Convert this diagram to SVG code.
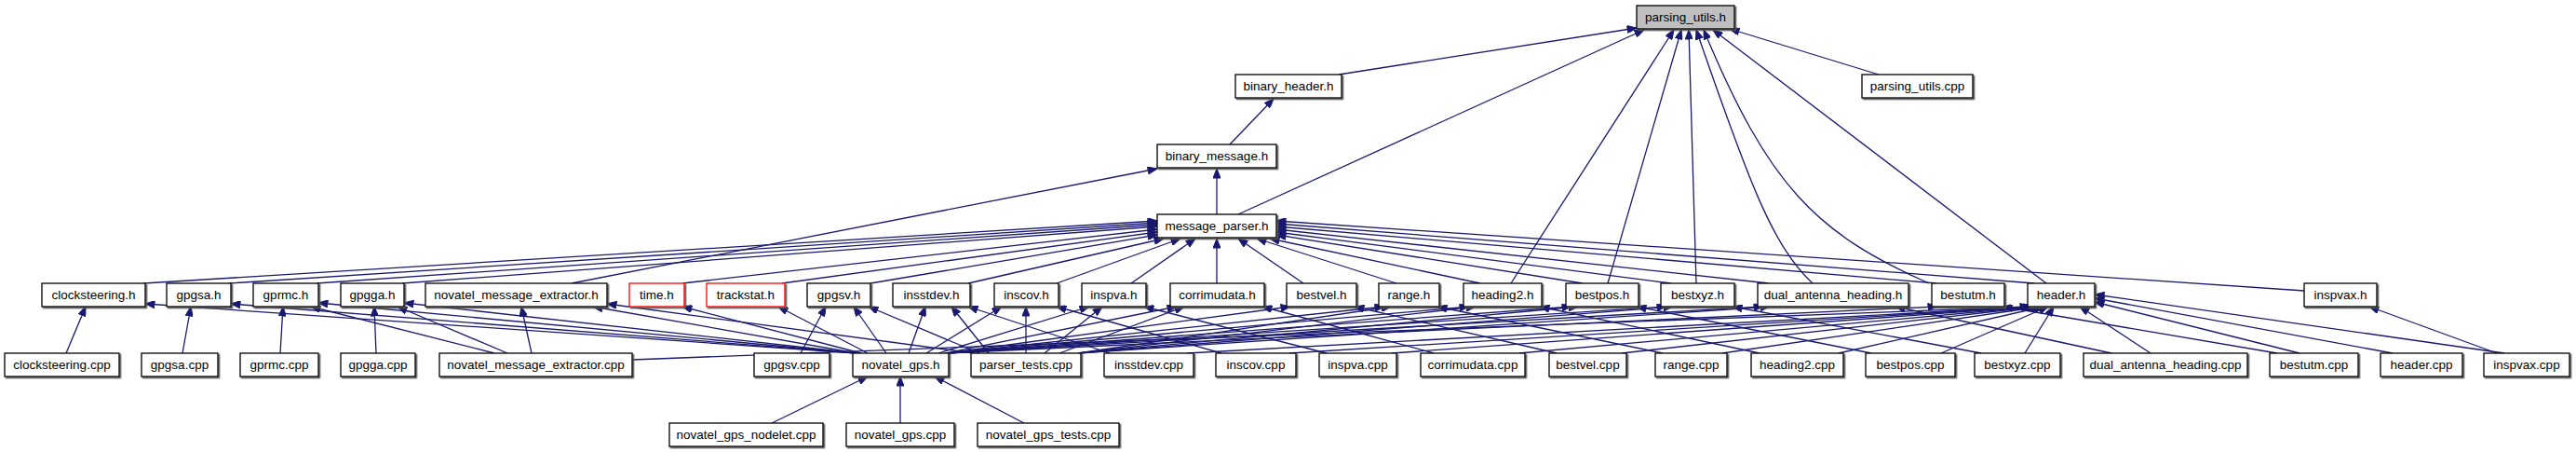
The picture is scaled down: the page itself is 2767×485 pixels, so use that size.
<svg xmlns="http://www.w3.org/2000/svg" width="2767" height="485" viewBox="0 0 2767 485">
<defs>
<style>
.n rect{fill:#fff;stroke:#000;stroke-width:1.3;filter:url(#sh)}
.n text{font-family:"Liberation Sans",Arial,sans-serif;font-size:13.5px;text-anchor:middle;fill:#000}
.red rect{stroke:#ff0000}
.root rect{fill:#bfbfbf}
.e path{stroke:#191970;stroke-width:1.3;fill:none;marker-end:url(#a)}
</style>
<filter id="sh" x="-10%" y="-30%" width="130%" height="180%">
<feDropShadow dx="1.5" dy="1.5" stdDeviation="0" flood-color="#555" flood-opacity="1"/>
</filter>
<marker id="a" viewBox="0 0 10 8" refX="10" refY="4" markerWidth="11" markerHeight="8" markerUnits="userSpaceOnUse" orient="auto">
<path d="M0,0 L10,4 L0,8 z" fill="#191970" stroke="#191970"/>
</marker>
</defs>
<rect width="2767" height="485" fill="#fff"/>
<g id="edges" class="e">
<path d="M1438,80 L1758,30"/>
<path d="M1330,230 L1766,32"/>
<path d="M1623,304 L1798,32"/>
<path d="M1727,304 L1806,32"/>
<path d="M1822,304 L1814,32"/>
<path d="M1947,304 C1905,265 1880,200 1822,32"/>
<path d="M2072,304 C1950,250 1900,200 1830,32"/>
<path d="M2198,304 L1840,32"/>
<path d="M2018,80 L1858,31"/>
<path d="M1321,155 L1368,106"/>
<path d="M1307,230 L1307,181"/>
<path d="M614,304 L1243,181"/>
<path d="M154,304 L1243,237"/>
<path d="M246,304 L1243,239"/>
<path d="M340,304 L1243,241"/>
<path d="M432,304 L1243,243"/>
<path d="M733,304 L1243,246"/>
<path d="M840,304 L1243,249"/>
<path d="M935,304 L1243,252"/>
<path d="M1040,304 L1250,256"/>
<path d="M1135,304 L1268,256"/>
<path d="M1215,304 L1284,256"/>
<path d="M1307,304 L1307,256"/>
<path d="M1400,304 L1330,256"/>
<path d="M1500,304 L1350,256"/>
<path d="M1590,304 L1364,256"/>
<path d="M1700,304 L1371,252"/>
<path d="M1795,304 L1371,249"/>
<path d="M1900,304 L1371,246"/>
<path d="M2080,304 L1371,243"/>
<path d="M2185,304 L1371,240"/>
<path d="M2475,312 L1371,237"/>
<path d="M71,379 L92,329"/>
<path d="M196,379 L205,329"/>
<path d="M301,379 L304,329"/>
<path d="M404,379 L402,329"/>
<path d="M571,379 L560,329"/>
<path d="M531,379 L334,329"/>
<path d="M545,379 L427,329"/>
<path d="M679,386 L2180,329"/>
<path d="M860,379 L887,329"/>
<path d="M920,379 L156,326"/>
<path d="M920,379 L248,326"/>
<path d="M920,379 L342,325"/>
<path d="M920,379 L434,325"/>
<path d="M920,379 L637,329"/>
<path d="M925,379 L733,329"/>
<path d="M932,379 L836,329"/>
<path d="M952,379 L917,329"/>
<path d="M976,379 L994,329"/>
<path d="M995,379 L1076,329"/>
<path d="M1008,379 L1170,329"/>
<path d="M1015,379 L1264,329"/>
<path d="M1017,379 L1386,329"/>
<path d="M1017,379 L1487,329"/>
<path d="M1017,379 L1578,329"/>
<path d="M1017,379 L1688,329"/>
<path d="M1017,379 L1790,329"/>
<path d="M1017,379 L1894,329"/>
<path d="M1017,379 L2081,329"/>
<path d="M1046,379 L652,326"/>
<path d="M1052,379 L933,329"/>
<path d="M1062,379 L1022,329"/>
<path d="M1102,379 L1102,329"/>
<path d="M1122,379 L1184,329"/>
<path d="M1138,379 L1272,329"/>
<path d="M1158,379 L1494,329"/>
<path d="M1158,379 L1585,329"/>
<path d="M1158,379 L1695,329"/>
<path d="M1158,379 L1797,329"/>
<path d="M1158,379 L1901,329"/>
<path d="M1192,379 L1040,329"/>
<path d="M1312,379 L1135,329"/>
<path d="M1425,379 L1229,329"/>
<path d="M1540,379 L1356,329"/>
<path d="M1672,379 L1455,329"/>
<path d="M1786,379 L1544,329"/>
<path d="M1890,379 L1654,329"/>
<path d="M2010,379 L1758,329"/>
<path d="M2128,379 L1861,329"/>
<path d="M2268,379 L2036,329"/>
<path d="M2446,379 L2151,329"/>
<path d="M2682,379 L2545,329"/>
<path d="M1275,379 L2182,329"/>
<path d="M1385,379 L2184,329"/>
<path d="M1495,379 L2186,329"/>
<path d="M1632,379 L2188,329"/>
<path d="M1742,379 L2190,329"/>
<path d="M1850,379 L2192,329"/>
<path d="M1975,379 L2195,329"/>
<path d="M2085,379 L2200,329"/>
<path d="M2175,379 L2206,329"/>
<path d="M2310,379 L2234,329"/>
<path d="M2470,379 L2250,324"/>
<path d="M2570,379 L2250,320"/>
<path d="M2690,379 L2250,316"/>
<path d="M829,454 L932,404"/>
<path d="M967,454 L967,404"/>
<path d="M1100,454 L1004,404"/>
</g>
<g id="n_parsing_utils_h" class="n root"><rect x="1758" y="6" width="105" height="25"/><text x="1810.5" y="23">parsing_utils.h</text></g>
<g id="n_binary_header_h" class="n"><rect x="1327" y="80" width="114" height="25"/><text x="1384" y="97">binary_header.h</text></g>
<g id="n_parsing_utils_cpp" class="n"><rect x="2000" y="80" width="119" height="25"/><text x="2059.5" y="97">parsing_utils.cpp</text></g>
<g id="n_binary_message_h" class="n"><rect x="1243" y="155" width="128" height="25"/><text x="1307" y="172">binary_message.h</text></g>
<g id="n_message_parser_h" class="n"><rect x="1243" y="230" width="128" height="25"/><text x="1307" y="247">message_parser.h</text></g>
<g id="n_clocksteering_h" class="n"><rect x="45" y="304" width="111" height="25"/><text x="100.5" y="321">clocksteering.h</text></g>
<g id="n_gpgsa_h" class="n"><rect x="179" y="304" width="69" height="25"/><text x="213.5" y="321">gpgsa.h</text></g>
<g id="n_gprmc_h" class="n"><rect x="272" y="304" width="70" height="25"/><text x="307" y="321">gprmc.h</text></g>
<g id="n_gpgga_h" class="n"><rect x="366" y="304" width="68" height="25"/><text x="400" y="321">gpgga.h</text></g>
<g id="n_novatel_message_extractor_h" class="n"><rect x="457" y="304" width="195" height="25"/><text x="554.5" y="321">novatel_message_extractor.h</text></g>
<g id="n_time_h" class="n red"><rect x="676" y="304" width="59" height="25"/><text x="705.5" y="321">time.h</text></g>
<g id="n_trackstat_h" class="n red"><rect x="759" y="304" width="84" height="25"/><text x="801" y="321">trackstat.h</text></g>
<g id="n_gpgsv_h" class="n"><rect x="867" y="304" width="68" height="25"/><text x="901" y="321">gpgsv.h</text></g>
<g id="n_insstdev_h" class="n"><rect x="959" y="304" width="83" height="25"/><text x="1000.5" y="321">insstdev.h</text></g>
<g id="n_inscov_h" class="n"><rect x="1068" y="304" width="69" height="25"/><text x="1102.5" y="321">inscov.h</text></g>
<g id="n_inspva_h" class="n"><rect x="1162" y="304" width="69" height="25"/><text x="1196.5" y="321">inspva.h</text></g>
<g id="n_corrimudata_h" class="n"><rect x="1257" y="304" width="101" height="25"/><text x="1307.5" y="321">corrimudata.h</text></g>
<g id="n_bestvel_h" class="n"><rect x="1382" y="304" width="75" height="25"/><text x="1419.5" y="321">bestvel.h</text></g>
<g id="n_range_h" class="n"><rect x="1481" y="304" width="65" height="25"/><text x="1513.5" y="321">range.h</text></g>
<g id="n_heading2_h" class="n"><rect x="1572" y="304" width="84" height="25"/><text x="1614" y="321">heading2.h</text></g>
<g id="n_bestpos_h" class="n"><rect x="1682" y="304" width="78" height="25"/><text x="1721" y="321">bestpos.h</text></g>
<g id="n_bestxyz_h" class="n"><rect x="1784" y="304" width="79" height="25"/><text x="1823.5" y="321">bestxyz.h</text></g>
<g id="n_dual_antenna_heading_h" class="n"><rect x="1888" y="304" width="162" height="25"/><text x="1969" y="321">dual_antenna_heading.h</text></g>
<g id="n_bestutm_h" class="n"><rect x="2075" y="304" width="78" height="25"/><text x="2114" y="321">bestutm.h</text></g>
<g id="n_header_h" class="n"><rect x="2178" y="304" width="72" height="25"/><text x="2214" y="321">header.h</text></g>
<g id="n_inspvax_h" class="n"><rect x="2475" y="304" width="78" height="25"/><text x="2514" y="321">inspvax.h</text></g>
<g id="n_clocksteering_cpp" class="n"><rect x="5" y="379" width="123" height="25"/><text x="66.5" y="396">clocksteering.cpp</text></g>
<g id="n_gpgsa_cpp" class="n"><rect x="152" y="379" width="82" height="25"/><text x="193" y="396">gpgsa.cpp</text></g>
<g id="n_gprmc_cpp" class="n"><rect x="258" y="379" width="84" height="25"/><text x="300" y="396">gprmc.cpp</text></g>
<g id="n_gpgga_cpp" class="n"><rect x="366" y="379" width="80" height="25"/><text x="406" y="396">gpgga.cpp</text></g>
<g id="n_novatel_message_extractor_cpp" class="n"><rect x="472" y="379" width="207" height="25"/><text x="575.5" y="396">novatel_message_extractor.cpp</text></g>
<g id="n_gpgsv_cpp" class="n"><rect x="810" y="379" width="81" height="25"/><text x="850.5" y="396">gpgsv.cpp</text></g>
<g id="n_novatel_gps_h" class="n"><rect x="916" y="379" width="103" height="25"/><text x="967.5" y="396">novatel_gps.h</text></g>
<g id="n_parser_tests_cpp" class="n"><rect x="1043" y="379" width="118" height="25"/><text x="1102" y="396">parser_tests.cpp</text></g>
<g id="n_insstdev_cpp" class="n"><rect x="1186" y="379" width="96" height="25"/><text x="1234" y="396">insstdev.cpp</text></g>
<g id="n_inscov_cpp" class="n"><rect x="1306" y="379" width="86" height="25"/><text x="1349" y="396">inscov.cpp</text></g>
<g id="n_inspva_cpp" class="n"><rect x="1417" y="379" width="83" height="25"/><text x="1458.5" y="396">inspva.cpp</text></g>
<g id="n_corrimudata_cpp" class="n"><rect x="1526" y="379" width="112" height="25"/><text x="1582" y="396">corrimudata.cpp</text></g>
<g id="n_bestvel_cpp" class="n"><rect x="1664" y="379" width="83" height="25"/><text x="1705.5" y="396">bestvel.cpp</text></g>
<g id="n_range_cpp" class="n"><rect x="1778" y="379" width="77" height="25"/><text x="1816.5" y="396">range.cpp</text></g>
<g id="n_heading2_cpp" class="n"><rect x="1881" y="379" width="99" height="25"/><text x="1930.5" y="396">heading2.cpp</text></g>
<g id="n_bestpos_cpp" class="n"><rect x="2004" y="379" width="96" height="25"/><text x="2052" y="396">bestpos.cpp</text></g>
<g id="n_bestxyz_cpp" class="n"><rect x="2121" y="379" width="92" height="25"/><text x="2167" y="396">bestxyz.cpp</text></g>
<g id="n_dual_antenna_heading_cpp" class="n"><rect x="2238" y="379" width="176" height="25"/><text x="2326" y="396">dual_antenna_heading.cpp</text></g>
<g id="n_bestutm_cpp" class="n"><rect x="2438" y="379" width="95" height="25"/><text x="2485.5" y="396">bestutm.cpp</text></g>
<g id="n_header_cpp" class="n"><rect x="2557" y="379" width="88" height="25"/><text x="2601" y="396">header.cpp</text></g>
<g id="n_inspvax_cpp" class="n"><rect x="2668" y="379" width="92" height="25"/><text x="2714" y="396">inspvax.cpp</text></g>
<g id="n_novatel_gps_nodelet_cpp" class="n"><rect x="719" y="454" width="165" height="25"/><text x="801.5" y="471">novatel_gps_nodelet.cpp</text></g>
<g id="n_novatel_gps_cpp" class="n"><rect x="909" y="454" width="116" height="25"/><text x="967" y="471">novatel_gps.cpp</text></g>
<g id="n_novatel_gps_tests_cpp" class="n"><rect x="1050" y="454" width="152" height="25"/><text x="1126" y="471">novatel_gps_tests.cpp</text></g>
</svg>
